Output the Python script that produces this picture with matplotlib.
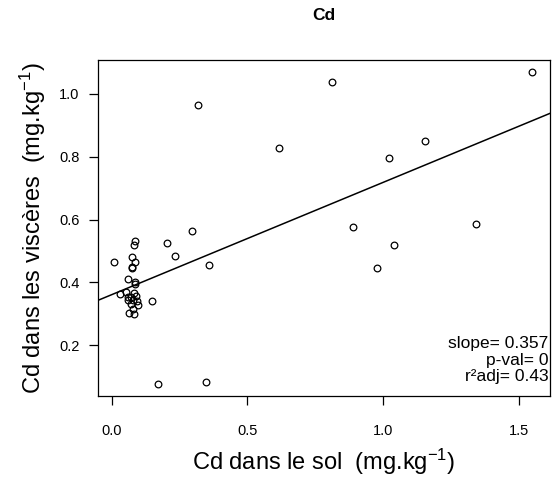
import matplotlib
matplotlib.use("Agg")
import matplotlib.pyplot as plt
import numpy as np

plt.rcParams["font.family"] = ["Liberation Sans", "DejaVu Sans"]
plt.rcParams["mathtext.fontset"] = "custom"
plt.rcParams["mathtext.rm"] = "Liberation Sans"
plt.rcParams["mathtext.it"] = "Liberation Sans"

# ---- données ----
cd_sol = [0.319, 0.616, 0.812, 1.021, 1.154, 1.550,
          0.890, 1.344, 1.041, 0.979, 0.172, 0.346,
          0.010, 0.088, 0.082, 0.206, 0.295, 0.234, 0.358,
          0.074, 0.087, 0.077, 0.074, 0.060, 0.088, 0.087,
          0.030, 0.054, 0.082, 0.060, 0.072, 0.090, 0.060,
          0.079, 0.094, 0.072, 0.096, 0.079, 0.066, 0.084, 0.150]
cd_visc = [0.964, 0.828, 1.036, 0.795, 0.849, 1.070,
           0.577, 0.587, 0.519, 0.446, 0.077, 0.083,
           0.466, 0.533, 0.518, 0.524, 0.562, 0.485, 0.456,
           0.481, 0.465, 0.450, 0.445, 0.410, 0.400, 0.395,
           0.364, 0.369, 0.367, 0.353, 0.355, 0.356, 0.343,
           0.343, 0.340, 0.330, 0.328, 0.317, 0.302, 0.300, 0.340]

slope = 0.357
intercept = 0.361
p_val = 0
r2_adj = 0.43

xticks = [0.0, 0.5, 1.0, 1.5]
yticks = [0.2, 0.4, 0.6, 0.8, 1.0]

fig = plt.figure(figsize=(5.52, 4.82), dpi=100)
ax = fig.add_axes([0.178, 0.179, 0.818, 0.6965])

ax.plot(cd_sol, cd_visc, "o", mfc="none", mec="black", ms=4.8, mew=0.9)

# droite de régression (abline)
xlim = (-0.049, 1.614)
ylim = (0.040, 1.107)
xx = np.array(xlim)
ax.plot(xx, intercept + slope * xx, "k-", lw=1.1)
ax.set_xlim(*xlim)
ax.set_ylim(*ylim)

ax.set_xticks(xticks)
ax.set_xticklabels([f"{v:.1f}" for v in xticks])
ax.set_yticks(yticks)
ax.set_yticklabels([f"{v:.1f}" for v in yticks])
ax.tick_params(direction="out", length=6.5, width=0.9, labelsize=10.5)
ax.tick_params(axis="x", pad=14)
ax.tick_params(axis="y", pad=7)
for s in ax.spines.values():
    s.set_linewidth(0.9)

fig.text(0.587, 1 - 15 / 482, "Cd", ha="center", va="center",
         fontsize=12.5, fontweight="bold")

ax.set_xlabel(r"Cd dans le sol  (mg.kg$^{-1}$)", fontsize=17, labelpad=6)
ax.set_ylabel(r"Cd dans les viscères  (mg.kg$^{-1}$)", fontsize=17, labelpad=8)

stats = [f"slope= {slope}", f"p-val= {p_val}", f"r²adj= {r2_adj}"]
for txt, yy in zip(stats, [0.143, 0.092, 0.043]):
    ax.text(0.997, yy, txt, transform=ax.transAxes,
            ha="right", va="baseline", fontsize=12.5)

fig.savefig("out.png", dpi=100)
